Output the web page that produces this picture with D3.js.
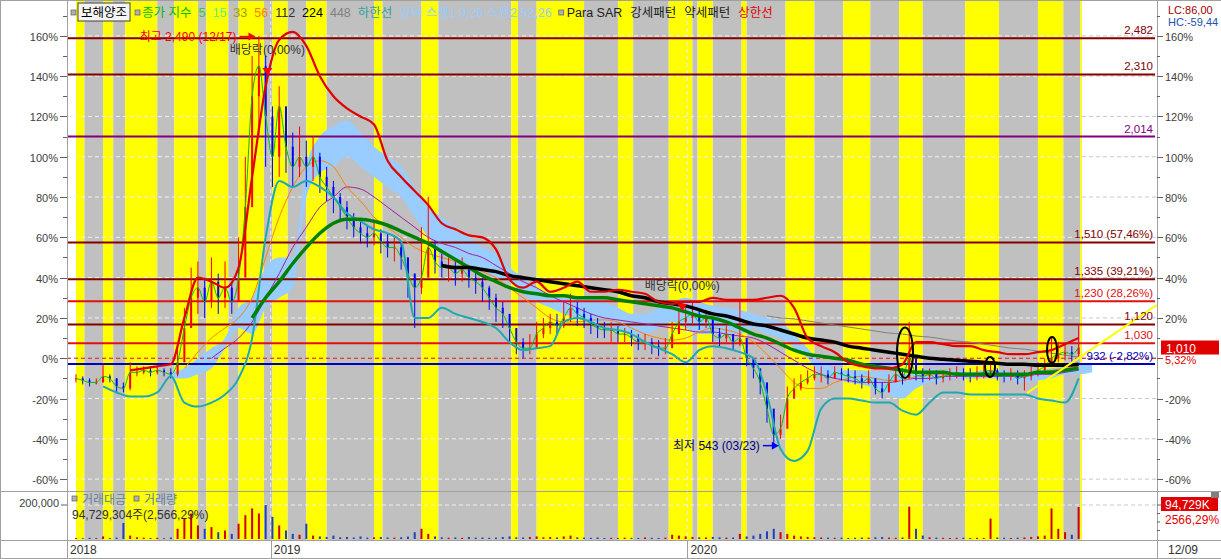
<!DOCTYPE html>
<html><head><meta charset="utf-8">
<script src="https://cdn.jsdelivr.net/npm/d3@7"></script>
<style>
body{margin:0;background:#fff;}
svg{display:block;font-family:"Liberation Sans","Noto Sans CJK KR",sans-serif;}
</style></head><body>
<svg id="c" width="1221" height="559"></svg>
<script>
// ---------------- DATA ----------------
const stockName = "보해양조";
const basePrice = 959;
const lastPrice = 1010;
const lastVolumeText = "94,729K";
const lastVolumeFull = "94,729,304주(2,566,29%)";
const lastVolumePct = "2566,29%";
const lcText = "LC:86,00", hcText = "HC:-59,44";

// pattern stripes: boundary day indices, alternating bullish(yellow)/bearish(gray)
const stripeBounds = [0,5,16,22,29,48,58,72,77,90,96,111,116,125,136,148,176,181,204,214,257,261,272,300,320,329,350,364,367,376,393,396,419,436,453,469,486,500,525,545,568,583,593,594];

// horizontal price levels
const levelPrices = [2482, 2310, 2014, 1510, 1335, 1230, 1120, 1030, 932];
const levelLabels = ["2,482","2,310","2,014","1,510 (57,46%)","1,335 (39,21%)","1,230 (28,26%)","1,120","1,030","932 (-2,82%)"];

// year ticks (day index of first trading day)
const yearLabels = ["2018","2019","2020"];
const yearDays = [-5.3, 115, 361];
const lastDateLabel = "12/09";

// candle samples every 4 trading days, in % vs base price
const closes = [
-10,-11,-12,-12,-9,-10,-14,-15,-7,-7,
-6,-7,-6,-7,-8,-2,15,30,35,28,
38,30,35,28,40,75,130,145,120,100,
125,105,95,100,95,100,90,85,80,75,
70,65,62,60,62,58,55,55,50,42,
35,40,55,48,45,45,42,44,40,38,
35,30,25,22,15,8,5,5,12,15,
18,16,20,25,22,20,17,15,14,14,
12,12,10,8,8,6,5,5,12,18,
20,22,18,20,12,10,12,8,10,0,
-5,-12,-25,-38,-35,-20,-15,-12,-10,-8,
-8,-10,-7,-8,-9,-10,-12,-10,-15,-17,
-12,-8,-10,0,-8,-9,-8,-10,-9,-8,
-7,-8,-9,-8,-7,-6,-8,-9,-8,-10,
-9,-8,-6,-4,0,2,3,2,5.32];
const highs = [
-8,-9,-10,-10,-3,-8,-10,-12,-2,-4,
-4,-4,-4,-5,-5,5,25,45,48,40,
50,42,48,38,60,100,150,160,150,125,
135,118,112,115,108,110,102,95,88,82,
78,72,68,66,68,64,62,60,58,50,
42,65,80,58,52,50,48,50,46,44,
40,36,32,28,22,14,10,12,18,20,
22,22,28,32,28,25,22,20,18,18,
16,15,14,12,12,10,9,10,18,24,
25,28,25,24,18,15,16,12,28,8,
0,-6,-15,-28,-28,-14,-10,-8,-6,-4,
-4,-6,-4,-5,-5,-6,-8,-6,-10,-12,
-8,-4,-5,18,-2,-5,-5,-6,-6,-5,
-4,-5,-5,-4,-3,-2,-5,-6,-5,-6,
-6,-4,-2,0,10,8,7,6,16.8];
const lows = [
-12,-13,-14,-13,-12,-12,-17,-17,-16,-9,
-8,-9,-8,-9,-10,-9,0,15,22,20,
25,22,25,22,28,45,90,110,95,85,
90,92,85,90,85,88,82,78,72,68,
64,60,57,55,56,52,50,48,44,30,
15,32,45,42,40,38,36,38,35,32,
28,24,18,15,8,2,0,2,6,10,
12,12,15,18,16,15,12,10,10,8,
8,8,6,4,4,2,1,2,6,12,
14,16,14,15,8,6,8,4,6,-4,
-10,-18,-32,-43,-40,-30,-20,-16,-13,-11,
-12,-13,-10,-11,-12,-13,-15,-13,-18,-20,
-15,-11,-13,-6,-11,-12,-11,-13,-12,-11,
-10,-11,-12,-11,-10,-9,-11,-12,-11,-13,
-16,-11,-9,-7,-3,-2,-1,-2,0];
const volumes = [
6000,5000,7000,5000,15000,6000,8000,94000,20000,10000,8000,6000,7000,5000,9000,
60000,120000,150000,80000,60000,70000,40000,50000,30000,90000,140000,180000,150000,200000,130000,80000,50000,30000,25000,90000,20000,
15000,12000,20000,10000,12000,9000,15000,8000,10000,12000,9000,8000,10000,14000,
40000,60000,30000,15000,10000,8000,9000,7000,12000,8000,
9000,7000,8000,12000,15000,10000,9000,12000,15000,10000,
12000,9000,15000,20000,10000,8000,7000,9000,6000,7000,
6000,8000,7000,6000,9000,7000,6000,8000,25000,20000,
15000,12000,10000,9000,12000,10000,8000,9000,30000,15000,
20000,30000,45000,60000,40000,30000,20000,15000,12000,10000,
9000,8000,7000,8000,6000,7000,9000,8000,10000,12000,
8000,7000,9000,190000,60000,20000,10000,8000,7000,6000,
7000,8000,6000,7000,6000,120000,9000,7000,6000,8000,
9000,12000,15000,20000,180000,60000,40000,25000,188000];

// indicator lines, sampled every 8 trading days (in %)
const upperBand = [null,null,null,null,-6,-5,-4,-3,20,40,
38,35,45,90,135,158,162,155,140,130,
124,120,116,98,90,83,76,67,64,61,
60,54,39,35,38,33,35,38,33,33,
34,33,32,28,27,28,28,30,29,29,
29,30,31,25,10,6,3,-2,-4,-5,
-5,-3,8,8,7,6,6,4,3,2,
2,3,4,7,10];
const ma112 = [null,null,null,null,null,null,null,null,null,null,null,null,null,
20,30,38,47,55,62,67,69,69,68,
66,63,60,57,53,49,45,41,38,35,
33,32,31,31,30,30,30,29,28,27,
26,25,23,21,20,18,15,12,10,7,
4,2,1,0,-1,-3,-4,-5,-6,-7,
-7,-7,-8,-8,-8,-8,-8,-8,-7,-7,-6,-5];
const ma224 = [null,null,null,null,null,null,null,null,null,null,null,null,null,null,null,null,null,null,null,null,null,null,null,null,null,null,null,
46,45,45,44,43,41,40,39,38,37,
36,35,34,33,31,30,28,27,26,24,
22,21,19,17,16,14,12,10,9,8,
6,5,4,3,2,1,0,-0.5,-1,-1.5,
-2,-2.5,-3,-3,-3.5,-3.5,-3.5,-3];
const lowerBand = [null,null,
-14,-17,-19,-19,-17,-9,-22,-24,
-22,-18,-10,10,60,88,85,88,85,80,
72,68,64,62,58,20,20,25,22,20,
18,15,8,4,5,6,18,20,18,15,
14,12,8,5,2,-2,4,6,5,3,
0,-18,-45,-51,-46,-25,-20,-20,-21,-22,
-22,-26,-28,-22,-17,-17,-18,-18,-18,-18,
-18,-20,-21,-22,-10];
const cloudTop = [null,null,null,null,null,null,null,
-7,-5,0,5,10,25,30,45,50,50,
95,110,115,118,112,105,100,95,85,75,
70,65,60,55,52,45,40,35,32,30,
30,30,28,25,22,22,25,28,30,28,
26,25,24,22,20,18,12,5,-2,-5,
-6,-6,-7,-7,-8,-8,-5,-6,-6,-7,
-6,-6,-7,-7,-6,-5,-4,-3,-3];
const cloudBottom = [null,null,null,null,null,null,null,
-10,-10,-8,-5,5,15,12,25,30,35,
80,92,95,100,95,90,85,80,70,60,
52,48,45,43,40,38,32,28,25,22,
20,18,18,15,12,12,15,18,15,12,
12,12,12,15,12,10,5,0,-8,-10,
-12,-13,-15,-18,-20,-15,-12,-11,-10,-10,
-10,-10,-11,-12,-11,-10,-8,-8,-7];
const ma33 = [null,null,null,null,null,null,null,null,
-5,3,10,15,20,30,50,70,85,95,
98,95,85,78,70,65,60,55,52,50,
48,46,43,40,35,30,25,20,18,18,
19,19,18,15,12,10,9,10,13,15,
14,12,8,2,-5,-12,-15,-15,-12,-10,
-9,-10,-11,-11,-9,-8,-8,-8,-8,-8,
-8,-8,-8,-7,-6,-5,-4];
const ma56 = [null,null,null,null,null,null,null,null,null,null,
0,5,10,18,30,42,55,65,75,80,
85,84,80,75,70,65,60,57,55,52,
50,46,42,38,35,31,28,25,22,20,
19,18,17,16,15,14,13,13,12,11,
10,7,3,-1,-5,-8,-10,-11,-12,-12,
-12,-11,-10,-10,-9,-9,-9,-9,-9,-9,
-9,-8,-8,-7,-6];
const ma448 = [null,null,null,null,null,null,null,null,null,null,null,null,null,null,null,null,null,null,null,null,null,null,null,null,null,null,null,null,null,null,null,null,null,null,null,null,null,null,null,null,null,null,null,null,null,null,null,null,null,null,null,
21,20,19.5,18.5,17.5,16.5,15.5,14.5,13.5,12.5,12,11,10.5,9.5,8.5,8,7,6,5,4.5,3.5,2.5,1.5,0.6];

// annotations (day index, price)
const highNote = {day:106, price:2490, text:"최고 2,490 (12/17)"};
const lowNote = {day:415, price:543, text:"최저 543 (03/23)"};
const exDivDays = [113, 358];
const exDivPct = [141.6, 24.4];
const exDivText = "배당락(0,00%)";
const ovalDays = [489.5, 539.7, 576.3];
const ovalHi = [15.3, 0.6, 10.5];
const ovalLo = [-9.8, -9.3, -2.4];
const trendDays = [561.5, 638];
const trendPct = [-17.3, 26.4];

const legendItems = ["종가 지수","5","15","33","56","112","224","448","하한선","일목 스팬1 9,26 스팬2 52,26"];
const legendItems2 = ["Para SAR","강세패턴","약세패턴","상한선"];

// ---------------- DRAW ----------------
const svg = d3.select("#c");
const pct = v => (v / basePrice - 1) * 100;
const x = d3.scaleLinear().domain([-5.3, 594]).range([67, 1082]);
const y = d3.scaleLinear().domain([-65.4, 177.3]).range([490, 1]);
const vy = d3.scaleLinear().domain([0, 200000]).range([539, 505]);
const candleDays = d3.range(0, 593, 4);
const lineDays = d3.range(0, 601, 8);
const XL = 67, XR = 1157, XD = 1082;

svg.append("rect").attr("width",1221).attr("height",559).attr("fill","#fff");
const defs = svg.append("defs");
defs.append("clipPath").attr("id","mainclip").append("rect").attr("x",XL).attr("y",0).attr("width",XR-XL).attr("height",491);
defs.append("clipPath").attr("id","volclip").append("rect").attr("x",XL).attr("y",491).attr("width",XR-XL).attr("height",49);

// stripes
const stripes = d3.range(stripeBounds.length-1).map(i => ({a:stripeBounds[i], b:stripeBounds[i+1], bull: i%2===0}));
svg.append("g").selectAll("rect").data(stripes).join("rect")
  .attr("x", d => x(d.a)).attr("width", d => x(d.b)-x(d.a))
  .attr("y", 0).attr("height", 540)
  .attr("fill", d => d.bull ? "#ffff00" : "#c0c0c0");

// grid
const ticks = d3.range(-60, 161, 20);
const grid = svg.append("g");
ticks.forEach(t => {
  grid.append("line").attr("x1",XL).attr("x2",XD).attr("y1",y(t)).attr("y2",y(t))
    .attr("stroke","#efefef").attr("stroke-dasharray","4,3").attr("stroke-width",1);
  grid.append("line").attr("x1",XD).attr("x2",XR).attr("y1",y(t)).attr("y2",y(t))
    .attr("stroke","#c8c8c8").attr("stroke-dasharray","4,3").attr("stroke-width",1);
});
[yearDays[1], yearDays[2]].forEach(d => {
  grid.append("line").attr("x1",x(d)).attr("x2",x(d)).attr("y1",0).attr("y2",540)
    .attr("stroke","#efefef").attr("stroke-dasharray","4,3");
});
grid.append("line").attr("x1",XL).attr("x2",XD).attr("y1",vy(200000)).attr("y2",vy(200000))
  .attr("stroke","#efefef").attr("stroke-dasharray","4,3");
grid.append("line").attr("x1",XD).attr("x2",XR).attr("y1",vy(200000)).attr("y2",vy(200000))
  .attr("stroke","#c8c8c8").attr("stroke-dasharray","4,3");

const main = svg.append("g").attr("clip-path","url(#mainclip)");

// cloud
const cloudData = lineDays.map((d,i) => ({day:d, t:cloudTop[i], b:cloudBottom[i]}));
main.append("path").datum(cloudData)
  .attr("d", d3.area().defined(d => d.t!=null && d.b!=null).x(d => x(d.day)).y0(d => y(d.b)).y1(d => y(d.t)).curve(d3.curveMonotoneX))
  .attr("fill","#99ccff");

// base dashed line
main.append("line").attr("x1",XL).attr("x2",XR).attr("y1",y(0)).attr("y2",y(0))
  .attr("stroke","#e00000").attr("stroke-dasharray","4,3").attr("stroke-width",1);

// level lines
const levelColor = {2482:"#800000",2310:"#800000",2014:"#800080",1510:"#800000",1335:"#800000",1230:"#e01010",1120:"#800000",1030:"#e01010",932:"#0000c0"};
levelPrices.forEach((p,i) => {
  main.append("line").attr("x1",XL).attr("x2",XR-2).attr("y1",y(pct(p))).attr("y2",y(pct(p)))
    .attr("stroke",levelColor[p]).attr("stroke-width",2);
});

// line helper
const lineGen = d3.line().defined(d => d.v!=null).x(d => x(d.day)).y(d => y(d.v)).curve(d3.curveMonotoneX);
function drawLine(arr, color, w, days) {
  const dd = (days||lineDays).map((d,i) => ({day:d, v: arr[i]===undefined ? null : arr[i]}));
  main.append("path").datum(dd).attr("d", lineGen).attr("fill","none")
    .attr("stroke", color).attr("stroke-width", w).attr("stroke-linejoin","round");
}

drawLine(ma448, "#808080", 1);
drawLine(ma56, "#a020a0", 1);
drawLine(ma33, "#ff8000", 1);

// candles
const cg = main.append("g");
candleDays.forEach((d,i) => {
  const o = i>0 ? closes[i-1] : closes[i];
  const c = closes[i];
  const up = c >= o;
  const col = up ? "#ff0000" : "#0000ff";
  cg.append("line").attr("x1",x(d)).attr("x2",x(d)).attr("y1",y(highs[i])).attr("y2",y(lows[i]))
    .attr("stroke",col).attr("stroke-width",1);
  const top = y(Math.max(o,c)), bot = y(Math.min(o,c));
  cg.append("rect").attr("x",x(d)-1).attr("width",2).attr("y",top).attr("height",Math.max(1,bot-top)).attr("fill",col);
});
drawLine(closes, "#00c000", 1, candleDays);

drawLine(lowerBand, "#20a8b0", 2);
drawLine(ma112, "#008000", 3.5);
drawLine(ma224, "#000000", 3.5);
drawLine(upperBand, "#e00000", 2.2);

// trendline
main.append("line").attr("x1",x(trendDays[0])).attr("y1",y(trendPct[0])).attr("x2",x(trendDays[1])).attr("y2",y(trendPct[1]))
  .attr("stroke","#ffff00").attr("stroke-width",2);

// ovals
ovalDays.forEach((d,i) => {
  main.append("ellipse").attr("cx",x(d)).attr("cy",(y(ovalHi[i])+y(ovalLo[i]))/2)
    .attr("rx", i===0 ? 8 : 5).attr("ry",(y(ovalLo[i])-y(ovalHi[i]))/2)
    .attr("fill","none").attr("stroke","#000").attr("stroke-width",2);
});

// annotations
const ann = svg.append("g").style("font-size","12px");
function arrow(x2, yy, color) {
  ann.append("line").attr("x1",x2-16).attr("x2",x2-5).attr("y1",yy).attr("y2",yy).attr("stroke",color).attr("stroke-width",1.5);
  ann.append("path").attr("d",`M${x2},${yy}L${x2-7},${yy-4}L${x2-7},${yy+4}Z`).attr("fill",color);
}
{
  const hx = x(highNote.day), hy = y(pct(highNote.price));
  arrow(hx, hy, "#ff0000");
  ann.append("text").attr("x",hx-19).attr("y",hy+4).attr("text-anchor","end").attr("fill","#ff0000").text(highNote.text);
  const lx = x(lowNote.day), ly = y(pct(lowNote.price));
  arrow(lx, ly, "#0000ff");
  ann.append("text").attr("x",lx-19).attr("y",ly+4).attr("text-anchor","end").attr("fill","#000080").text(lowNote.text);
}
exDivDays.forEach((d,i) => {
  const ex = x(d), ey = y(exDivPct[i]);
  ann.append("path").attr("d",`M${ex-5},${ey-5}L${ex+5},${ey-5}L${ex},${ey+2}Z`).attr("fill","#ff0000");
  ann.append("text").attr("x",ex).attr("y",ey-19).attr("text-anchor","middle").attr("fill","#303030").text(exDivText);
});

// axes frame
const fr = svg.append("g").attr("stroke","#a0a0a0").attr("stroke-width",1);
fr.append("line").attr("x1",XL+0.5).attr("x2",XL+0.5).attr("y1",0).attr("y2",559);
fr.append("line").attr("x1",XR+0.5).attr("x2",XR+0.5).attr("y1",0).attr("y2",559);
fr.append("line").attr("x1",0).attr("x2",1221).attr("y1",491.5).attr("y2",491.5);
fr.append("line").attr("x1",0).attr("x2",1221).attr("y1",540.5).attr("y2",540.5);
fr.append("line").attr("x1",0).attr("x2",1221).attr("y1",0.5).attr("y2",0.5);
fr.append("line").attr("x1",0).attr("x2",1221).attr("y1",558.5).attr("y2",558.5);
fr.append("line").attr("x1",0.5).attr("x2",0.5).attr("y1",0).attr("y2",559);
yearDays.slice(1).forEach(d => fr.append("line").attr("x1",Math.round(x(d))+0.5).attr("x2",Math.round(x(d))+0.5).attr("y1",541).attr("y2",559));

// y axis ticks and labels
const ax = svg.append("g").style("font-size","11px").attr("fill","#404040");
d3.range(-60, 171, 10).forEach(t => {
  const major = t % 20 === 0;
  const yy = Math.round(y(t)) + 0.5;
  if (yy < 2 || yy > 489) return;
  ax.append("line").attr("x1",XL-(major?7:4)).attr("x2",XL).attr("y1",yy).attr("y2",yy).attr("stroke","#606060");
  ax.append("line").attr("x1",XR).attr("x2",XR+(major?6:3)).attr("y1",yy).attr("y2",yy).attr("stroke","#606060");
  if (major) {
    ax.append("text").attr("x",XL-9).attr("y",yy+4).attr("text-anchor","end").text(t+"%");
    if (t !== 0) ax.append("text").attr("x",XR+8).attr("y",yy+4).text(t+"%");
  }
});
// volume axis
ax.append("line").attr("x1",XL-6).attr("x2",XL).attr("y1",vy(200000)).attr("y2",vy(200000)).attr("stroke","#606060");
ax.append("text").attr("x",XL-8).attr("y",vy(200000)+2).attr("text-anchor","end").text(d3.format(",")(200000));
[200000,150000,100000,50000].forEach(v => ax.append("line").attr("x1",XR).attr("x2",XR+(v===200000?6:3)).attr("y1",vy(v)).attr("y2",vy(v)).attr("stroke","#606060"));

// x axis labels
const xa = svg.append("g").style("font-size","12px").attr("fill","#303030");
yearDays.forEach((d,i) => xa.append("text").attr("x",x(d)+3).attr("y",554).text(yearLabels[i]));
xa.append("text").attr("x",XR+11).attr("y",554).text(lastDateLabel);

// level labels
const ll = svg.append("g").style("font-size","11.5px").attr("text-anchor","end");
levelPrices.forEach((p,i) => {
  ll.append("text").attr("x",XR-4).attr("y",y(pct(p))-4).attr("fill",levelColor[p]).text(levelLabels[i]);
});

// current price box
const cp = svg.append("g").style("font-size","12px");
const cy = y(pct(lastPrice));
cp.append("rect").attr("x",XR+4).attr("y",cy-7).attr("width",58).attr("height",14).attr("fill","#e00000");
cp.append("text").attr("x",XR+9).attr("y",cy+5).attr("fill","#fff").text(d3.format(",")(lastPrice));
cp.append("text").attr("x",XR+8).attr("y",cy+16).attr("fill","#e00000").style("font-size","11px").text(pct(lastPrice).toFixed(2).replace(".",",")+"%");
cp.append("text").attr("x",XR+11).attr("y",14).attr("fill","#a00000").style("font-size","11px").text(lcText);
cp.append("text").attr("x",XR+11).attr("y",26).attr("fill","#2050b0").style("font-size","11px").text(hcText);

// volume bars
const vg = svg.append("g").attr("clip-path","url(#volclip)");
candleDays.forEach((d,i) => {
  const o = i>0 ? closes[i-1] : closes[i];
  const col = closes[i] >= o ? "#d00000" : "#2040c0";
  vg.append("rect").attr("x",x(d)-1).attr("width",2).attr("y",vy(volumes[i])).attr("height",vy(0)-vy(volumes[i])).attr("fill",col);
});
// volume labels
const vl = svg.append("g").style("font-size","12px");
function marker(g, mx, my) {
  g.append("rect").attr("x",mx).attr("y",my-4).attr("width",5).attr("height",5).attr("fill","#b0b0b0").attr("stroke","#606060").attr("stroke-width",0.7);
}
marker(vl, 72, 500);
vl.append("text").attr("x",82).attr("y",504).attr("fill","#6080a0").text("거래대금");
marker(vl, 134, 500);
vl.append("text").attr("x",144).attr("y",504).attr("fill","#6080a0").text("거래량");
vl.append("text").attr("x",72).attr("y",519).attr("fill","#303030").text(lastVolumeFull);
vl.append("rect").attr("x",XR+4).attr("y",497).attr("width",57).attr("height",14).attr("fill","#e00000");
vl.append("text").attr("x",XR+8).attr("y",509).attr("fill","#fff").text(lastVolumeText);
vl.append("text").attr("x",XR+8).attr("y",524).attr("fill","#e00000").text(lastVolumePct);
vl.append("rect").attr("x",1211).attr("y",492).attr("width",8).attr("height",6).attr("fill","#808080");

// legend
const lg = svg.append("g").style("font-size","12.5px");
const legendColors = ["#00c000","#33cc33","#66ee88","#a0a000","#ff8000","#303030","#000000","#808080","#30a0a0","#99ccff"];
marker(lg, 71, 14);
lg.append("rect").attr("x",78).attr("y",3).attr("width",52).attr("height",18).attr("fill","#f4f4f4").attr("stroke","#404040");
lg.append("text").attr("x",81).attr("y",17).attr("fill","#000").text(stockName);
marker(lg, 135, 14);
let lx = 142;
legendItems.forEach((t,i) => {
  const tx = lg.append("text").attr("x",lx).attr("y",17).attr("fill",legendColors[i]).text(t);
  lx += tx.node().getComputedTextLength() + 7;
});
marker(lg, lx, 14);
lx += 8;
const legend2Colors = ["#202020","#202020","#202020","#e00000"];
legendItems2.forEach((t,i) => {
  const tx = lg.append("text").attr("x",lx).attr("y",17).attr("fill",legend2Colors[i]).text(t);
  lx += tx.node().getComputedTextLength() + 8;
});
</script></body></html>
